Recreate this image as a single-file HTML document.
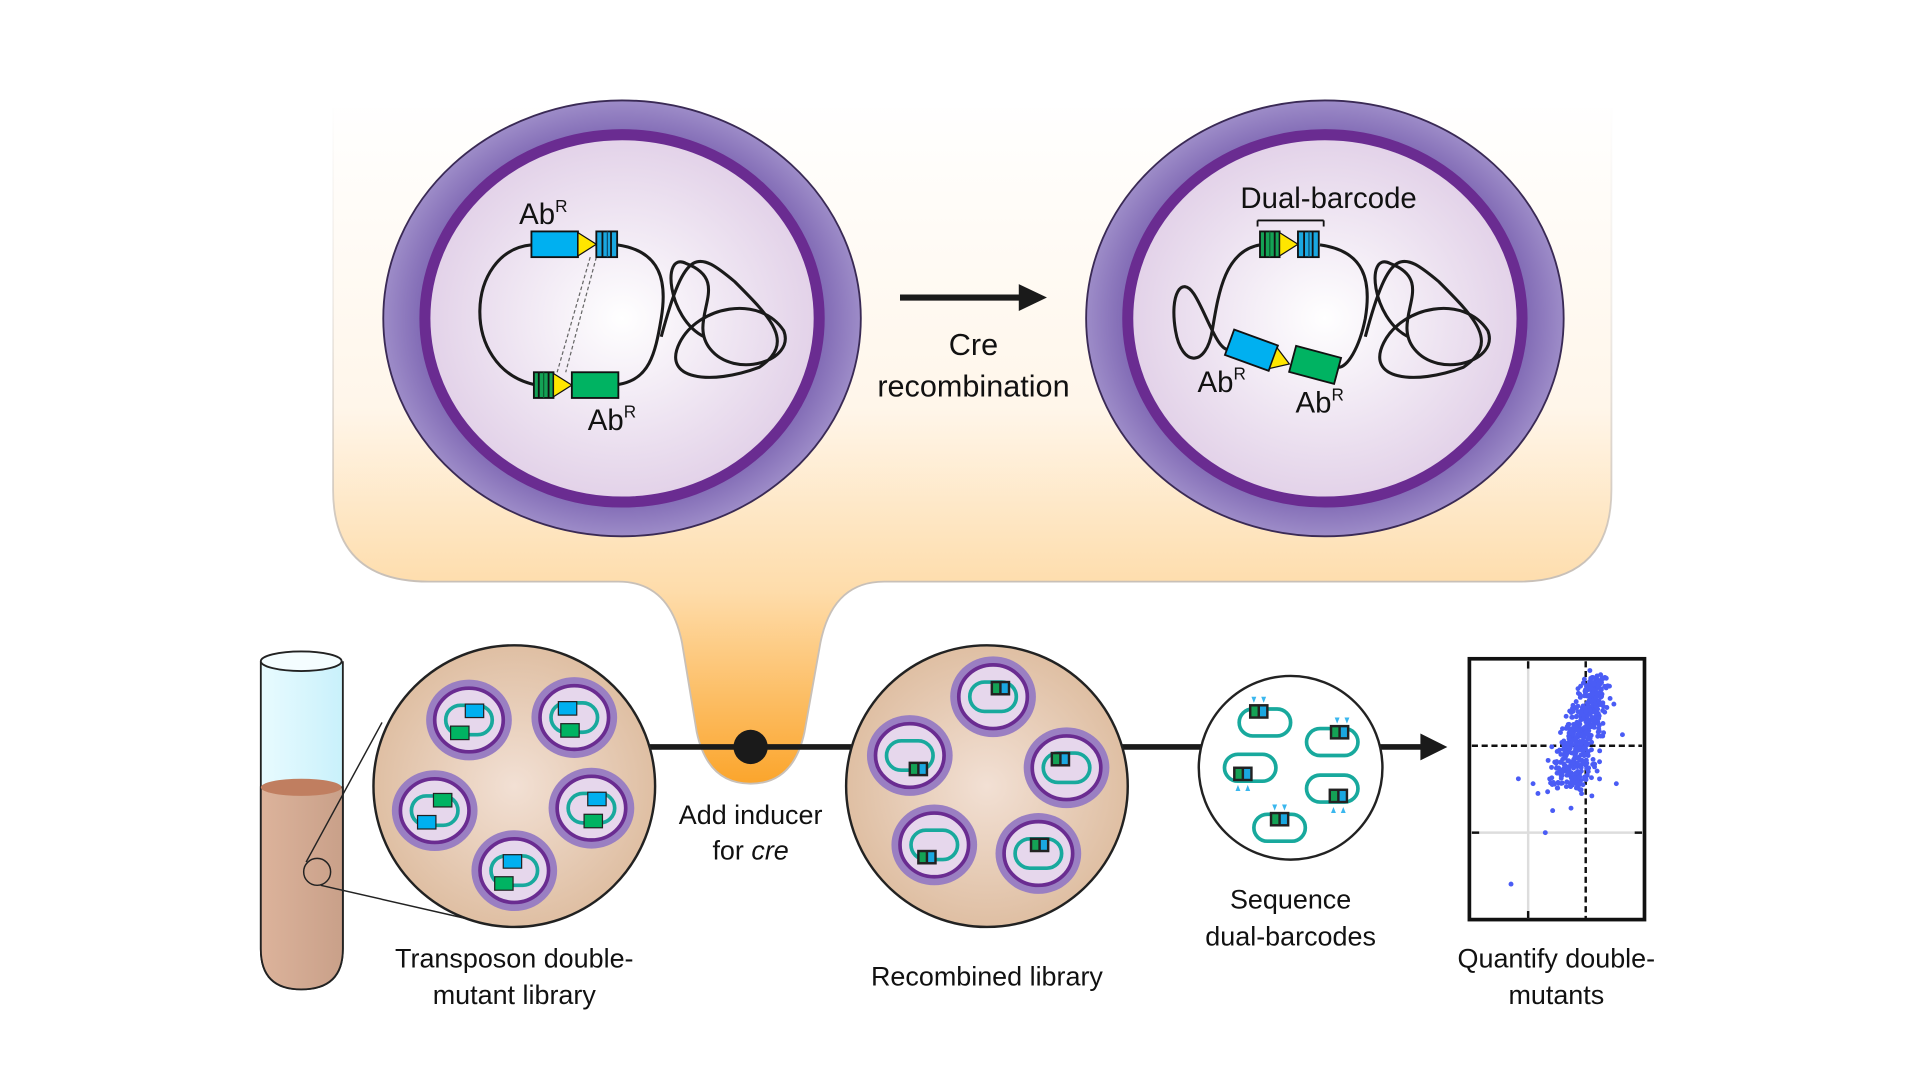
<!DOCTYPE html>
<html><head><meta charset="utf-8"><style>
html,body{margin:0;padding:0;background:#fff;}
svg{display:block;}
text{font-family:"Liberation Sans",sans-serif;fill:#111;}
</style></head><body>
<svg width="1920" height="1080" viewBox="0 0 1568 882" xmlns="http://www.w3.org/2000/svg">
<defs>
<linearGradient id="cg" x1="0" y1="80" x2="0" y2="640" gradientUnits="userSpaceOnUse">
<stop offset="0" stop-color="#ffffff"/>
<stop offset="0.45" stop-color="#fff6ea"/>
<stop offset="0.72" stop-color="#fedcaa"/>
<stop offset="1" stop-color="#fba52c"/>
</linearGradient>
<linearGradient id="sg" x1="0" y1="80" x2="0" y2="640" gradientUnits="userSpaceOnUse">
<stop offset="0" stop-color="#d0c8c0" stop-opacity="0"/>
<stop offset="0.3" stop-color="#d0c8c0" stop-opacity="0.3"/>
<stop offset="0.7" stop-color="#c8c0b8" stop-opacity="1"/>
<stop offset="1" stop-color="#c8c0b8"/>
</linearGradient>
<radialGradient id="cellO" cx="0.5" cy="0.5" r="0.5">
<stop offset="0.8" stop-color="#7a62b0"/><stop offset="1" stop-color="#9d8cc8"/>
</radialGradient>
<radialGradient id="cellI" cx="0.5" cy="0.5" r="0.5">
<stop offset="0" stop-color="#ffffff"/><stop offset="1" stop-color="#e2d1e8"/>
</radialGradient>
<radialGradient id="tis" cx="0.5" cy="0.5" r="0.5">
<stop offset="0" stop-color="#f2e0d4"/><stop offset="1" stop-color="#dfbfa3"/>
</radialGradient>
<linearGradient id="tube" x1="0" x2="1">
<stop offset="0" stop-color="#dcb39b"/><stop offset="1" stop-color="#c9a089"/>
</linearGradient>
<linearGradient id="glass" x1="0" x2="1">
<stop offset="0" stop-color="#e8fbff"/><stop offset="1" stop-color="#c9f1fb"/>
</linearGradient>
<g id="bcB"><rect x="0" y="0" width="17" height="21" fill="#1aa7e0" stroke="#111" stroke-width="1.5"/><line x1="5" y1="0" x2="5" y2="21" stroke="#111" stroke-width="1.5"/><line x1="9" y1="0" x2="9" y2="21" stroke="#0b4d6e" stroke-width="1"/><line x1="12" y1="0" x2="12" y2="21" stroke="#111" stroke-width="1.5"/></g>
<g id="bcG"><rect x="0" y="0" width="16" height="21" fill="#14a255" stroke="#111" stroke-width="1.5"/><line x1="4" y1="0" x2="4" y2="21" stroke="#111" stroke-width="1.5"/><line x1="8" y1="0" x2="8" y2="21" stroke="#0b5a2e" stroke-width="1"/><line x1="12" y1="0" x2="12" y2="21" stroke="#111" stroke-width="1.5"/></g>
<g id="mini">
<ellipse cx="0" cy="0" rx="35" ry="33" fill="#9a7fc2"/>
<ellipse cx="0" cy="0" rx="28" ry="26" fill="#e6d7ec" stroke="#6a2c91" stroke-width="3"/>
<rect x="-19" y="-12" width="38" height="24" rx="12" fill="none" stroke="#18a99d" stroke-width="3"/>
</g>
<g id="dbc"><rect x="-8" y="-6" width="16" height="12" fill="#222"/><rect x="-6" y="-4" width="5" height="8" fill="#14a255"/><rect x="1" y="-4" width="5" height="8" fill="#1aa7e0"/></g>
<g id="pr"><polygon points="-6,-3 -2,-3 -4,2" fill="#3ab7ee"/><polygon points="2,-3 6,-3 4,2" fill="#3ab7ee"/></g>
<g id="pu"><polygon points="-6,3 -2,3 -4,-2" fill="#3ab7ee"/><polygon points="2,3 6,3 4,-2" fill="#3ab7ee"/></g>
</defs>

<!-- callout -->
<path d="M272,80 L1316,80 L1316,400 Q1316,475 1240,475 L722,475 Q680,475 670,525 L657,598 Q648,640 613,640 Q578,640 569,598 L557,525 Q547,475 505,475 L350,475 Q272,475 272,400 Z" fill="url(#cg)" stroke="url(#sg)" stroke-width="1.5"/>
<rect x="262" y="60" width="1070" height="28" fill="#fff"/>

<!-- left cell -->
<ellipse cx="508" cy="260" rx="195" ry="178" fill="url(#cellO)" stroke="#3a2a55" stroke-width="1.5"/>
<ellipse cx="508" cy="260" rx="161" ry="150" fill="url(#cellI)" stroke="#6a2c91" stroke-width="9"/>
<g fill="none" stroke="#1a1a1a" stroke-width="2.5">
<path d="M434,200 C380,205 375,300 436,314"/>
<path d="M504,200 C540,205 545,230 540,260 C535,290 530,310 505,314"/>
<path d="M540,275 C560,200 570,205 600,230 C630,260 650,280 620,300 C580,315 540,310 555,280 C570,250 620,240 640,270 C650,295 600,310 580,285 C560,260 600,230 560,215 C540,205 545,260 575,275"/>
</g>
<g stroke="#666" stroke-width="1" stroke-dasharray="3,2"><line x1="482" y1="210" x2="455" y2="304"/><line x1="487" y1="210" x2="462" y2="304"/></g>
<rect x="434" y="189" width="38" height="21" fill="#00b0f0" stroke="#111" stroke-width="1.5"/>
<polygon points="472,190 487,199.5 472,209" fill="#ffe600" stroke="#111" stroke-width="1"/>
<use href="#bcB" x="487" y="189"/>
<use href="#bcG" x="436" y="304"/>
<polygon points="452,305 467,314.5 452,324" fill="#ffe600" stroke="#111" stroke-width="1"/>
<rect x="467" y="304" width="38" height="21" fill="#00b362" stroke="#111" stroke-width="1.5"/>
<text x="424" y="183" font-size="24">Ab<tspan font-size="14" dy="-10">R</tspan></text>
<text x="480" y="351" font-size="24">Ab<tspan font-size="14" dy="-10">R</tspan></text>

<!-- arrow -->
<line x1="735" y1="243" x2="838" y2="243" stroke="#1a1a1a" stroke-width="5"/>
<polygon points="832,232 855,243 832,254" fill="#1a1a1a"/>
<text x="795" y="290" font-size="25" text-anchor="middle">Cre</text>
<text x="795" y="324" font-size="25" text-anchor="middle">recombination</text>

<!-- right cell -->
<ellipse cx="1082" cy="260" rx="195" ry="178" fill="url(#cellO)" stroke="#3a2a55" stroke-width="1.5"/>
<ellipse cx="1082" cy="260" rx="161" ry="150" fill="url(#cellI)" stroke="#6a2c91" stroke-width="9"/>
<g fill="none" stroke="#1a1a1a" stroke-width="2.5">
<path d="M1029,200 C1000,205 995,240 990,270 C985,300 965,300 960,270 C955,240 965,225 975,240 C985,255 995,290 1005,285"/>
<path d="M1078,200 C1115,205 1120,230 1115,260 C1110,285 1100,300 1093,300"/>
<path d="M1115,275 C1135,200 1145,205 1175,230 C1205,260 1225,280 1195,300 C1155,315 1115,310 1130,280 C1145,250 1195,240 1215,270 C1225,295 1175,310 1155,285 C1135,260 1175,230 1135,215 C1115,205 1120,260 1150,275"/>
</g>
<line x1="1027" y1="180" x2="1081" y2="180" stroke="#111" stroke-width="1.5"/>
<line x1="1027" y1="180" x2="1027" y2="185" stroke="#111" stroke-width="1.5"/>
<line x1="1081" y1="180" x2="1081" y2="185" stroke="#111" stroke-width="1.5"/>
<use href="#bcG" x="1029" y="189"/>
<polygon points="1045,190 1060,199.5 1045,209" fill="#ffe600" stroke="#111" stroke-width="1"/>
<use href="#bcB" x="1060" y="189"/>
<g transform="translate(1022,286) rotate(20)"><rect x="-19" y="-11" width="38" height="22" fill="#00b0f0" stroke="#111" stroke-width="1.5"/><polygon points="19,-9 33,0 19,9" fill="#ffe600" stroke="#111" stroke-width="1"/></g>
<g transform="translate(1074,298) rotate(15)"><rect x="-19" y="-11" width="38" height="22" fill="#00b362" stroke="#111" stroke-width="1.5"/></g>
<text x="1085" y="170" font-size="24" text-anchor="middle">Dual-barcode</text>
<text x="978" y="320" font-size="24">Ab<tspan font-size="14" dy="-10">R</tspan></text>
<text x="1058" y="337" font-size="24">Ab<tspan font-size="14" dy="-10">R</tspan></text>

<!-- bottom line -->
<line x1="530" y1="610" x2="1165" y2="610" stroke="#1a1a1a" stroke-width="4.5"/>
<polygon points="1160,599 1182,610 1160,621" fill="#1a1a1a"/>
<circle cx="613" cy="610" r="14" fill="#1a1a1a"/>

<!-- tube -->
<path d="M213,540 L213,775 Q213,808 246,808 Q280,808 280,775 L280,540" fill="url(#glass)" stroke="#222" stroke-width="1.5"/>
<path d="M213,643 L213,775 Q213,808 246,808 Q280,808 280,775 L280,643 Z" fill="url(#tube)" stroke="#222" stroke-width="1.5"/>
<ellipse cx="246" cy="643" rx="33" ry="7" fill="#c07e60"/>
<ellipse cx="246" cy="540" rx="33" ry="8" fill="#f4fdff" stroke="#222" stroke-width="1.5"/>
<circle cx="259" cy="712" r="11" fill="none" stroke="#222" stroke-width="1.2"/>
<line x1="250" y1="704" x2="312" y2="590" stroke="#222" stroke-width="1.2"/>
<line x1="262" y1="723" x2="380" y2="750" stroke="#222" stroke-width="1.2"/>

<!-- circle 1 -->
<circle cx="420" cy="642" r="115" fill="url(#tis)" stroke="#222" stroke-width="2"/>
<g>
<use href="#mini" x="383" y="588"/><rect x="380" y="575" width="15" height="11" fill="#00b0f0" stroke="#222"/><rect x="368" y="593" width="15" height="11" fill="#00b362" stroke="#222"/>
<use href="#mini" x="469" y="586"/><rect x="456" y="573" width="15" height="11" fill="#00b0f0" stroke="#222"/><rect x="458" y="591" width="15" height="11" fill="#00b362" stroke="#222"/>
<use href="#mini" x="355" y="662"/><rect x="354" y="648" width="15" height="11" fill="#00b362" stroke="#222"/><rect x="341" y="666" width="15" height="11" fill="#00b0f0" stroke="#222"/>
<use href="#mini" x="483" y="660"/><rect x="480" y="647" width="15" height="11" fill="#00b0f0" stroke="#222"/><rect x="477" y="665" width="15" height="11" fill="#00b362" stroke="#222"/>
<use href="#mini" x="420" y="711"/><rect x="411" y="698" width="15" height="11" fill="#00b0f0" stroke="#222"/><rect x="404" y="716" width="15" height="11" fill="#00b362" stroke="#222"/>
</g>

<!-- circle 2 -->
<circle cx="806" cy="642" r="115" fill="url(#tis)" stroke="#222" stroke-width="2"/>
<use href="#mini" x="811" y="569"/><use href="#dbc" x="817" y="562"/>
<use href="#mini" x="743" y="617"/><use href="#dbc" x="750" y="628"/>
<use href="#mini" x="871" y="627"/><use href="#dbc" x="866" y="620"/>
<use href="#mini" x="763" y="690"/><use href="#dbc" x="757" y="700"/>
<use href="#mini" x="848" y="697"/><use href="#dbc" x="849" y="690"/>

<!-- circle 3 -->
<circle cx="1054" cy="627" r="75" fill="#fff" stroke="#222" stroke-width="2"/>
<g fill="none" stroke="#18a99d" stroke-width="3">
<rect x="1012" y="579" width="42" height="22" rx="11"/>
<rect x="1067" y="595" width="42" height="22" rx="11"/>
<rect x="1000" y="616" width="42" height="22" rx="11"/>
<rect x="1067" y="633" width="42" height="22" rx="11"/>
<rect x="1024" y="665" width="42" height="22" rx="11"/>
</g>
<use href="#dbc" x="1028" y="581"/><use href="#dbc" x="1094" y="598"/><use href="#dbc" x="1015" y="632"/><use href="#dbc" x="1093" y="650"/><use href="#dbc" x="1045" y="669"/>
<use href="#pr" x="1028" y="572"/><use href="#pr" x="1096" y="589"/>
<use href="#pu" x="1015" y="643"/><use href="#pu" x="1093" y="661"/><use href="#pr" x="1045" y="660"/>

<!-- plot -->
<rect x="1200" y="538" width="143" height="213" fill="#fff" stroke="#111" stroke-width="3"/>
<line x1="1248" y1="540" x2="1248" y2="750" stroke="#ddd" stroke-width="2"/>
<line x1="1202" y1="680" x2="1341" y2="680" stroke="#ddd" stroke-width="2"/>
<line x1="1248" y1="540" x2="1248" y2="546" stroke="#111" stroke-width="2"/>
<line x1="1248" y1="744" x2="1248" y2="750" stroke="#111" stroke-width="2"/>
<line x1="1202" y1="680" x2="1208" y2="680" stroke="#111" stroke-width="2"/>
<line x1="1335" y1="680" x2="1341" y2="680" stroke="#111" stroke-width="2"/>
<line x1="1295" y1="540" x2="1295" y2="750" stroke="#111" stroke-width="2" stroke-dasharray="5,3"/>
<line x1="1202" y1="609" x2="1341" y2="609" stroke="#111" stroke-width="2" stroke-dasharray="5,3"/>
<g id="dots" fill="#4a5cf5"></g>

<!-- labels -->
<g font-size="22" text-anchor="middle">
<text x="420" y="790">Transposon double-</text>
<text x="420" y="820">mutant library</text>
<text x="613" y="673">Add inducer</text>
<text x="613" y="702">for <tspan font-style="italic">cre</tspan></text>
<text x="806" y="805">Recombined library</text>
<text x="1054" y="742">Sequence</text>
<text x="1054" y="772">dual-barcodes</text>
<text x="1271" y="790">Quantify double-</text>
<text x="1271" y="820">mutants</text>
</g>
</svg>
<script>
(function(){
var g=document.getElementById('dots');var s=12345;
function r(){s=(s*16807)%2147483647;return s/2147483647;}
function n(){return (r()+r()+r()-1.5)*1.4;}
var h='';
for(var i=0;i<520;i++){
 var t=r();
 var cx=1280+t*24, cy=640-t*85;
 var w=14-t*7;
 var x=cx+n()*w, y=cy+n()*6;
 h+='<circle cx="'+x.toFixed(1)+'" cy="'+y.toFixed(1)+'" r="2"/>';
}
var extra=[[1252,640],[1256,648],[1262,680],[1234,722],[1320,640],[1325,600],[1240,636],[1283,660],[1268,662],[1300,650],[1318,575]];
extra.forEach(function(p){h+='<circle cx="'+p[0]+'" cy="'+p[1]+'" r="2"/>';});
g.innerHTML=h;
})();
</script>
</body></html>
